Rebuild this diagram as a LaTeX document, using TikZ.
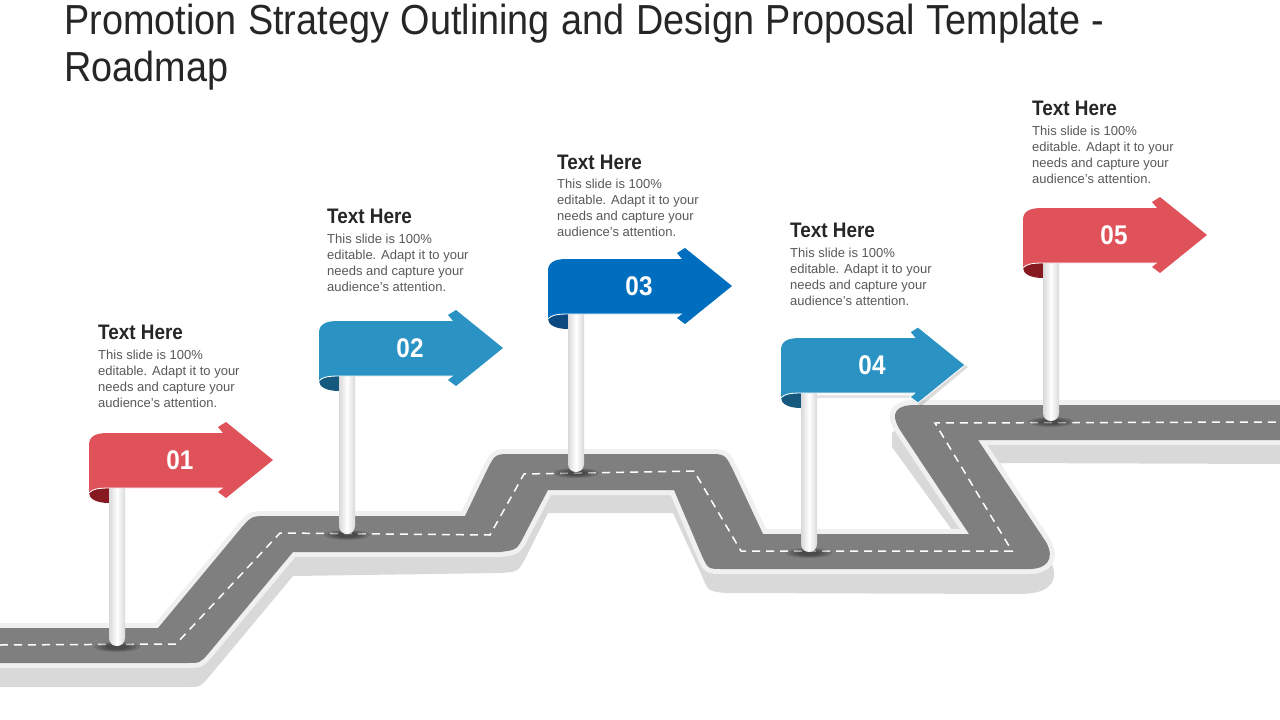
\documentclass[tikz,border=0pt]{standalone}
\usepackage{fontspec}
\setmainfont{Liberation Sans}
\newfontfamily\narrowfont[FakeStretch=0.90,WordSpace=1.12]{Liberation Sans}
\newfontfamily\headfont[FakeStretch=0.9]{Liberation Sans}
\definecolor{roadgray}{HTML}{7F7F7F}
\definecolor{halo}{HTML}{F0F0F0}
\definecolor{roadshadow}{HTML}{D9D9D9}
\definecolor{flagred}{HTML}{E0525A}
\definecolor{darkred}{HTML}{861A20}
\definecolor{flagblue}{HTML}{2A93C4}
\definecolor{darkblue}{HTML}{15597F}
\definecolor{flagdeep}{HTML}{006EBF}
\definecolor{darkdeep}{HTML}{0B4A80}
\definecolor{titlecol}{HTML}{262626}
\definecolor{bodycol}{HTML}{595959}
\tikzset{
  titletext/.style={anchor=north west,inner sep=0pt,align=left,text=titlecol,font=\narrowfont\fontsize{42}{47}\selectfont},
  headtext/.style={anchor=west,inner sep=0pt,text=titlecol,font=\headfont\bfseries\fontsize{21}{24}\selectfont},
  bodytext/.style={anchor=north west,inner sep=0pt,align=left,text=bodycol,font=\fontsize{13}{16}\selectfont},
  flagnum/.style={inner sep=0pt,text=white,font=\headfont\bfseries\fontsize{27}{30}\selectfont},
  polefill/.style={left color=black!15,right color=black!15,middle color=white},
}
\newcommand{\roadoutline}{(0,628) -- (158,628) -- (242,527) .. controls (252,516) .. (268,516) -- (465,516) -- (487,470) .. controls (495,454) .. (512,454) -- (708,454) .. controls (725,454) .. (733,470) -- (763,534) -- (969,534) -- (900,430) .. controls (889,412) and (897,405) .. (915,405) -- (1280,405) -- (1280,440) -- (978,440) -- (1046,542) .. controls (1056,560) and (1045,569) .. (1030,569) -- (723,569) .. controls (708,569) .. (702,556) -- (674,490) -- (548,490) -- (526,532) .. controls (517,550) .. (500,552) -- (293,552) -- (208,654) .. controls (200,663) .. (187,663) -- (0,663) -- cycle}
\newcommand{\flagoutline}{(89,445) .. controls (89,436) and (96,433) .. (108,433) -- (223,433) -- (218,427) -- (226,422) -- (273,460) -- (226,498) -- (218,492) -- (223,488) -- (110,488) .. controls (98,488) and (92,489) .. (89,493) -- cycle}
% #1 dx, #2 dy, #3 face, #4 curl, #5 name, #6 number, #7 pole bottom y
\newcommand{\roadflag}[7]{%
  \begin{scope}[shift={(#1,#2)}]
    \pgfmathsetmacro{\polebot}{#7-#2}
    \foreach \rx/\ry in {23/5,19/4.2,15/3.4,11/2.6}
      \fill[black,opacity=.12] (117,\polebot+1) ellipse [x radius=\rx,y radius=\ry];
    \fill[#4] (89,493) .. controls (93,489) and (100,488) .. (109,488) -- (109,503) .. controls (97,503) and (89,499) .. (89,493) -- cycle;
    \shade[polefill] (109,480) -- (109,\polebot-8) .. controls (109,\polebot-3) and (113,\polebot) .. (117,\polebot) .. controls (121,\polebot) and (125,\polebot-3) .. (125,\polebot-8) -- (125,480) -- cycle;
    \fill[#3] \flagoutline;
    \draw[white,line width=.8] (89,493) .. controls (92,489) and (98,488) .. (110,488) -- (223,488);
    \node[flagnum] (#5) at (180,460) {#6};
  \end{scope}}
\begin{document}
\begin{tikzpicture}[x=1pt,y=-1pt]
\useasboundingbox (0,0) rectangle (1280,720);
\fill[white] (0,0) rectangle (1280,720);
% road shadow
\fill[roadshadow] (0,650) -- (160,650) -- (250,540) -- (480,540) -- (530,500) -- (552,480) -- (675,480) -- (700,480) -- (740,540) -- (945,545) -- (952,530) -- (892,447) -- (892,433) -- (905,420) -- (1280,420) -- (1280,464) -- (1000,463) -- (1040,530) -- (1053,567) .. controls (1058,585) and (1045,594) .. (1020,594) -- (725,593) .. controls (708,591) .. (702,576) -- (673,513) -- (548,513) -- (526,557) .. controls (518,572) .. (500,573) -- (293,576) -- (208,678) .. controls (200,687) .. (187,687) -- (0,687) -- cycle;
% road body
\draw[halo,line width=10,line join=round,fill=halo] \roadoutline;
\fill[roadgray] \roadoutline;
\draw[white,line width=1.5,dash pattern=on 8pt off 6pt] (0,645) -- (176,644) -- (280,533) -- (490,535) -- (524,474) -- (694,471) -- (741,551) -- (1012,551) -- (935,423) -- (1280,422);
% flags
\roadflag{0}{0}{flagred}{darkred}{numa}{01}{646}
\roadflag{230}{-112}{flagblue}{darkblue}{numb}{02}{534}
\roadflag{459}{-174}{flagdeep}{darkdeep}{numc}{03}{472}
\begin{scope}[shift={(692,-95)}]
\fill[black,opacity=.14] (228,424) -- (276,462) -- (229,501) -- (220,494) -- (226,490) -- cycle;
\fill[black,opacity=.10] (110,490) -- (226,490) -- (226,493) -- (125,493) -- cycle;
\end{scope}
\roadflag{692}{-95}{flagblue}{darkblue}{numd}{04}{552}
\begin{scope}[shift={(692,-95)}]
\draw[white,line width=.8] (223,433) -- (218,427) -- (226,422) -- (273,460) -- (226,498) -- (218,492) -- (223,488);
\end{scope}
\roadflag{934}{-225}{flagred}{darkred}{nume}{05}{421}
% title
\node[titletext] (title) at (64,4) {Promotion Strategy Outlining and Design Proposal Template -\\Roadmap};
% captions
\node[headtext] (heada) at (98,332) {Text Here};
\node[bodytext] (bodya) at (98,350) {This slide is 100\%\\editable. Adapt it to your\\needs and capture your\\audience's attention.};
\node[headtext] (headb) at (327,216) {Text Here};
\node[bodytext] (bodyb) at (327,234) {This slide is 100\%\\editable. Adapt it to your\\needs and capture your\\audience's attention.};
\node[headtext] (headc) at (557,162) {Text Here};
\node[bodytext] (bodyc) at (557,179) {This slide is 100\%\\editable. Adapt it to your\\needs and capture your\\audience's attention.};
\node[headtext] (headd) at (790,230) {Text Here};
\node[bodytext] (bodyd) at (790,247.5) {This slide is 100\%\\editable. Adapt it to your\\needs and capture your\\audience's attention.};
\node[headtext] (heade) at (1032,108) {Text Here};
\node[bodytext] (bodye) at (1032,126) {This slide is 100\%\\editable. Adapt it to your\\needs and capture your\\audience's attention.};
\end{tikzpicture}
\end{document}
